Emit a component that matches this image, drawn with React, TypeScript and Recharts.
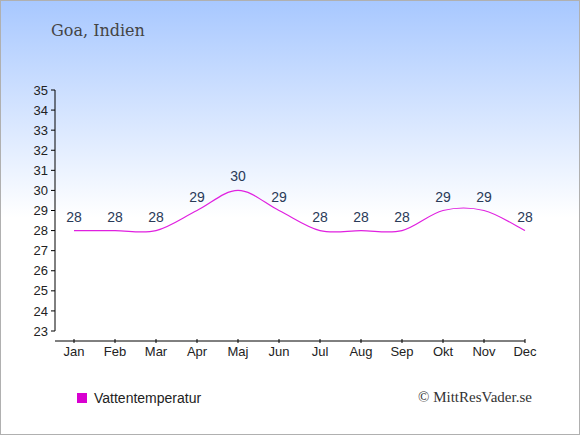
import React from "react";
import { LineChart, Line, XAxis, YAxis, LabelList } from "recharts";

const months = ["Jan", "Feb", "Mar", "Apr", "Maj", "Jun", "Jul", "Aug", "Sep", "Okt", "Nov", "Dec"];
const waterTemp = [28, 28, 28, 29, 30, 29, 28, 28, 28, 29, 29, 28];
const yTicks = [23, 24, 25, 26, 27, 28, 29, 30, 31, 32, 33, 34, 35];

const data = months.map((m, i) => ({ month: m, temp: waterTemp[i] }));

// catmull-rom style cardinal curve (tension 0), the original overshoots a bit between equal points
// eslint-disable-next-line @typescript-eslint/no-explicit-any
const cardinal = (ctx: any) => {
  let pts: [number, number][] = [];
  return {
    areaStart() {},
    areaEnd() {},
    lineStart() {
      pts = [];
    },
    point(x: number, y: number) {
      pts.push([+x, +y]);
    },
    lineEnd() {
      if (!pts.length) return;
      ctx.moveTo(pts[0][0], pts[0][1]);
      for (let i = 0; i < pts.length - 1; i++) {
        const p0 = pts[i - 1] ?? pts[i];
        const p1 = pts[i];
        const p2 = pts[i + 1];
        const p3 = pts[i + 2] ?? pts[i + 1];
        ctx.bezierCurveTo(
          p1[0] + (p2[0] - p0[0]) / 6,
          p1[1] + (p2[1] - p0[1]) / 6,
          p2[0] - (p3[0] - p1[0]) / 6,
          p2[1] - (p3[1] - p1[1]) / 6,
          p2[0],
          p2[1]
        );
      }
    },
  };
};

const sans = "'Liberation Sans', Arial, sans-serif";
const serif = "'DejaVu Serif', serif";

export default function App() {
  return (
    <div
      style={{
        position: "fixed",
        left: 0,
        top: 0,
        width: 580,
        height: 435,
        boxSizing: "border-box",
        border: "1px solid #b0b0b0",
        background: "linear-gradient(#a8c8ff 0%, #ffffff 50%)",
      }}
    >
      <div style={{ position: "absolute", left: 50, top: 20, fontFamily: serif, fontSize: 16, color: "#444" }}>
        Goa, Indien
      </div>
      <div style={{ position: "absolute", left: 417, top: 388, fontFamily: "'Liberation Serif', serif", fontSize: 15, color: "#333" }}>
        © MittResVader.se
      </div>
      {/* legend */}
      <div
        style={{
          position: "absolute",
          left: 76,
          top: 389,
          display: "flex",
          alignItems: "center",
          fontFamily: sans,
          fontSize: 14,
          color: "#222",
        }}
      >
        <span style={{ width: 10, height: 10, background: "#d800d0", display: "inline-block", marginRight: 7 }} />
        Vattentemperatur
      </div>
      <div style={{ position: "absolute", left: -1, top: -1 }}>
        <LineChart width={580} height={435} data={data} margin={{ top: 90, right: 55, left: 10, bottom: 74 }}>
          <XAxis
            dataKey="month"
            padding={{ left: 19, right: 0 }}
            axisLine={{ stroke: "#000", transform: "translate(0,10)" }}
            tickLine={{ stroke: "#000", transform: "translate(0,8)" }}
            tickSize={4}
            tick={{ fill: "#222", fontSize: 13, fontFamily: sans, dy: 10 }}
            interval={0}
          />
          <YAxis
            domain={[23, 35]}
            ticks={yTicks}
            width={45}
            axisLine={{ stroke: "#000" }}
            tickLine={{ stroke: "#000" }}
            tickSize={4}
            tickMargin={3}
            tick={{ fill: "#222", fontSize: 13, fontFamily: sans }}
            interval={0}
          />
          <Line
            dataKey="temp"
            type={cardinal}
            stroke="#e020e0"
            strokeWidth={1.2}
            dot={false}
            isAnimationActive={false}
          >
            <LabelList
              dataKey="temp"
              position="top"
              offset={9}
              style={{ fill: "#2a3a58", fontSize: 14, fontFamily: sans }}
            />
          </Line>
        </LineChart>
      </div>
    </div>
  );
}
